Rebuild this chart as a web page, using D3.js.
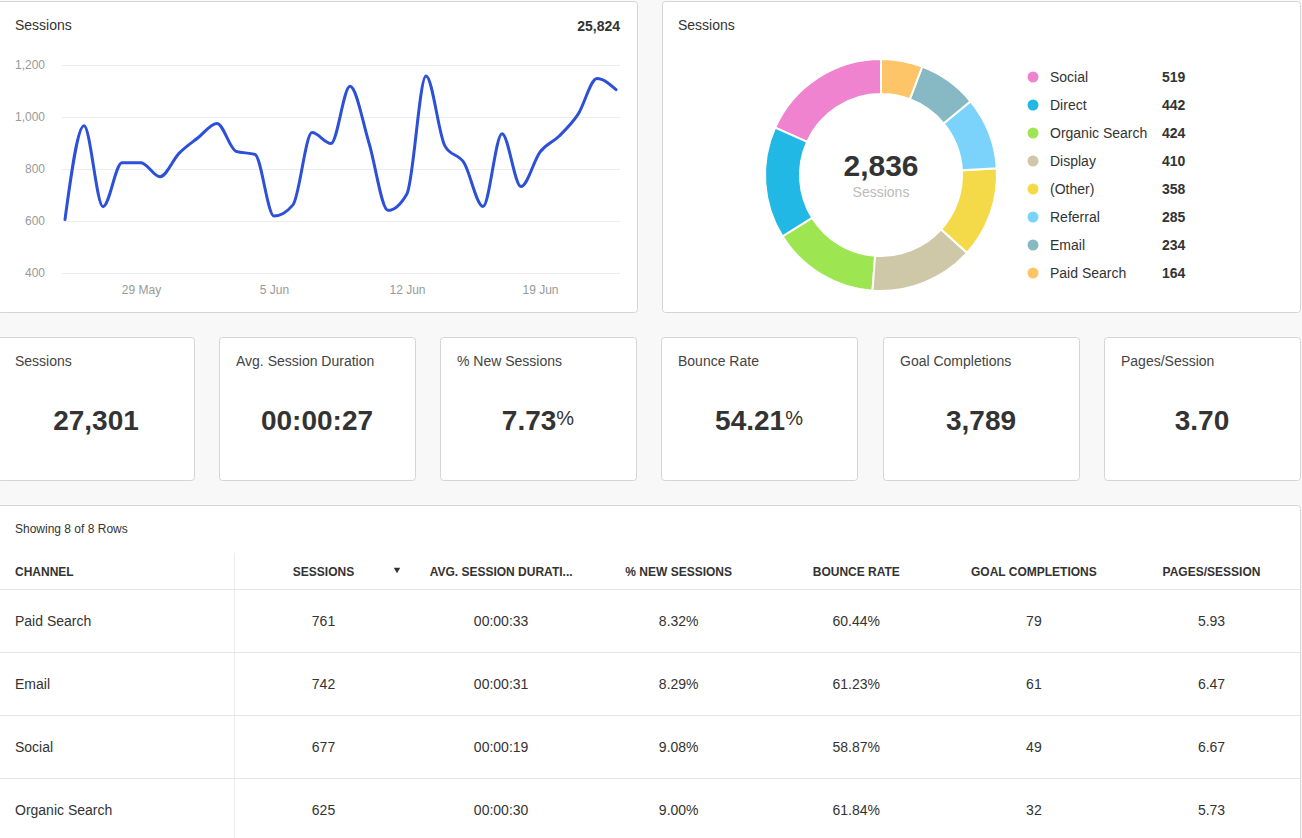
<!DOCTYPE html>
<html>
<head>
    <meta charset="utf-8">
    <script src="https://d3js.org/d3.v7.min.js"></script>
    <style>
        body { margin: 0; background: #f8f8f8; overflow: hidden; }
        svg { display: block; font-family: "Liberation Sans", Arial, sans-serif; }
    </style>
</head>
<body>
<script>
// daily sessions, 25 May .. 23 Jun
const days = ['2019-05-25','2019-05-26','2019-05-27','2019-05-28','2019-05-29','2019-05-30',
    '2019-05-31','2019-06-01','2019-06-02','2019-06-03','2019-06-04','2019-06-05','2019-06-06',
    '2019-06-07','2019-06-08','2019-06-09','2019-06-10','2019-06-11','2019-06-12','2019-06-13',
    '2019-06-14','2019-06-15','2019-06-16','2019-06-17','2019-06-18','2019-06-19','2019-06-20',
    '2019-06-21','2019-06-22','2019-06-23'];
const sessions = [606, 966, 655, 824, 824, 770, 860, 920, 975, 868, 856, 619, 662, 940, 898,
    1118, 900, 641, 705, 1158, 888, 824, 656, 936, 733, 865, 926, 1010, 1148, 1105];
const dateTicks = ['2019-05-29', '2019-06-05', '2019-06-12', '2019-06-19'];
const sessionTicks = [400, 600, 800, 1000, 1200];
const sessionsTotal = '25,824';

const channels = ['Social', 'Direct', 'Organic Search', 'Display', '(Other)', 'Referral', 'Email', 'Paid Search'];
const channelSessions = [519, 442, 424, 410, 358, 285, 234, 164];
const channelColors = ['#ef83cf', '#21b8e5', '#9de651', '#cec8a8', '#f4da49', '#7bd3fb', '#87b9c4', '#fdc468'];

const kpiLabels = ['Sessions', 'Avg. Session Duration', '% New Sessions', 'Bounce Rate', 'Goal Completions', 'Pages/Session'];
const kpiValues = ['27,301', '00:00:27', '7.73', '54.21', '3,789', '3.70'];
const kpiUnits = ['', '', '%', '%', '', ''];

const tableHeaders = ['CHANNEL', 'SESSIONS', 'AVG. SESSION DURATI...', '% NEW SESSIONS', 'BOUNCE RATE', 'GOAL COMPLETIONS', 'PAGES/SESSION'];
const tableChannels = ['Paid Search', 'Email', 'Social', 'Organic Search'];
const tableSessions = ['761', '742', '677', '625'];
const tableDuration = ['00:00:33', '00:00:31', '00:00:19', '00:00:30'];
const tableNewSessions = ['8.32%', '8.29%', '9.08%', '9.00%'];
const tableBounce = ['60.44%', '61.23%', '58.87%', '61.84%'];
const tableGoals = ['79', '61', '49', '32'];
const tablePages = ['5.93', '6.47', '6.67', '5.73'];

const width = 1302, height = 838;
const parse = d3.timeParse('%Y-%m-%d');

const svg = d3.select('body').append('svg')
    .attr('width', width)
    .attr('height', height);

function card(x, y, w, h) {
    svg.append('rect')
        .attr('x', x + 0.5).attr('y', y + 0.5)
        .attr('width', w).attr('height', h)
        .attr('rx', 3)
        .attr('fill', '#fff')
        .attr('stroke', '#d5d5d5');
}

// ---- cards
card(-3, 1, 640, 311);
card(662, 1, 638, 311);
const kpiLeft = [-3, 219, 440, 661, 883, 1104];
kpiLeft.forEach(l => card(l, 337, l < 0 ? 197 : 196, 143));
card(-3, 505, 1303, 400);

// ---- line chart
const data = days.map((d, i) => ({date: parse(d), value: sessions[i]}));

const x = d3.scaleTime()
    .domain(d3.extent(data, d => d.date))
    .range([65, 616]);

const y = d3.scaleLinear()
    .domain([400, 1200])
    .range([273, 65]);

svg.append('text')
    .attr('x', 15).attr('y', 30)
    .attr('font-size', 14).attr('fill', '#333')
    .text('Sessions');

svg.append('text')
    .attr('x', 620).attr('y', 31)
    .attr('text-anchor', 'end')
    .attr('font-size', 14).attr('font-weight', 'bold').attr('fill', '#333')
    .text(sessionsTotal);

const yAxis = svg.append('g')
    .attr('transform', 'translate(45,0)')
    .call(d3.axisLeft(y).tickValues(sessionTicks).tickFormat(d3.format(',')).tickSize(0).tickPadding(0));
yAxis.select('.domain').remove();
yAxis.selectAll('text').attr('font-size', 12).attr('fill', '#999').attr('font-family', null);

svg.append('g')
    .selectAll('line')
    .data(sessionTicks)
    .join('line')
    .attr('x1', 62).attr('x2', 620)
    .attr('y1', d => y(d) + 0.5).attr('y2', d => y(d) + 0.5)
    .attr('stroke', '#ececec');

const xAxis = svg.append('g')
    .attr('transform', 'translate(0,285)')
    .call(d3.axisBottom(x).tickValues(dateTicks.map(parse)).tickFormat(d3.timeFormat('%-d %b')).tickSize(0).tickPadding(0));
xAxis.select('.domain').remove();
xAxis.selectAll('text').attr('font-size', 12).attr('fill', '#999').attr('font-family', null);

const line = d3.line()
    .x(d => x(d.date))
    .y(d => y(d.value))
    .curve(d3.curveMonotoneX);

svg.append('path')
    .datum(data)
    .attr('fill', 'none')
    .attr('stroke', '#2c50d8')
    .attr('stroke-width', 3)
    .attr('stroke-linecap', 'round')
    .attr('d', line);

// ---- donut
svg.append('text')
    .attr('x', 678).attr('y', 30)
    .attr('font-size', 14).attr('fill', '#333')
    .text('Sessions');

const slices = channels.map((c, i) => ({name: c, value: channelSessions[i], color: channelColors[i]}));
const pie = d3.pie().value(d => d.value).sort(null)
    .startAngle(2 * Math.PI).endAngle(0);
const arc = d3.arc().innerRadius(81).outerRadius(116);

const donut = svg.append('g').attr('transform', 'translate(881,175)');
donut.selectAll('path')
    .data(pie(slices))
    .join('path')
    .attr('d', arc)
    .attr('fill', d => d.data.color)
    .attr('stroke', '#fff')
    .attr('stroke-width', 2);

donut.append('text')
    .attr('y', 1)
    .attr('text-anchor', 'middle')
    .attr('font-size', 30).attr('font-weight', 'bold').attr('fill', '#333')
    .text(d3.format(',')(d3.sum(channelSessions)));

donut.append('text')
    .attr('y', 22)
    .attr('text-anchor', 'middle')
    .attr('font-size', 14).attr('fill', '#bbb')
    .text('Sessions');

const legend = svg.append('g')
    .selectAll('g')
    .data(slices)
    .join('g')
    .attr('transform', (d, i) => `translate(1033,${77 + i * 28})`);
legend.append('circle').attr('r', 5.5).attr('fill', d => d.color);
legend.append('text')
    .attr('x', 17).attr('y', 5)
    .attr('font-size', 14).attr('fill', '#333')
    .text(d => d.name);
legend.append('text')
    .attr('x', 129).attr('y', 5)
    .attr('font-size', 14).attr('font-weight', 'bold').attr('fill', '#333')
    .text(d => d.value);

// ---- kpi cards
kpiLabels.forEach((label, i) => {
    const left = kpiLeft[i] < 0 ? -2 : kpiLeft[i];
    svg.append('text')
        .attr('x', left + 17).attr('y', 366)
        .attr('font-size', 14).attr('fill', '#444')
        .text(label);
    const val = svg.append('text')
        .attr('x', left + 98).attr('y', 430)
        .attr('text-anchor', 'middle')
        .attr('font-size', 28).attr('font-weight', 'bold').attr('fill', '#333');
    val.append('tspan').text(kpiValues[i]);
    if (kpiUnits[i]) {
        val.append('tspan')
            .attr('font-size', 20).attr('font-weight', 'normal')
            .attr('dy', -5)
            .text(kpiUnits[i]);
    }
});

// ---- table
svg.append('text')
    .attr('x', 15).attr('y', 533)
    .attr('font-size', 12).attr('fill', '#333')
    .text('Showing 8 of 8 Rows');

const colCenter = d3.scalePoint()
    .domain(tableHeaders.slice(1))
    .range([323.5, 1211.5]);

const rowY = d3.scaleLinear().domain([0, 1]).range([621, 684]);

svg.append('line')
    .attr('x1', 234.5).attr('x2', 234.5)
    .attr('y1', 553).attr('y2', height)
    .attr('stroke', '#ececec');

svg.selectAll('.rowline')
    .data([0, 1, 2, 3])
    .join('line')
    .attr('x1', 0).attr('x2', 1300)
    .attr('y1', d => rowY(d) - 31.5).attr('y2', d => rowY(d) - 31.5)
    .attr('stroke', '#e6e6e6');

svg.append('text')
    .attr('x', 15).attr('y', 576)
    .attr('font-size', 12).attr('font-weight', 'bold').attr('fill', '#333')
    .text(tableHeaders[0]);

svg.selectAll('.head')
    .data(tableHeaders.slice(1))
    .join('text')
    .attr('x', d => colCenter(d)).attr('y', 576)
    .attr('text-anchor', 'middle')
    .attr('font-size', 12).attr('font-weight', 'bold').attr('fill', '#333')
    .text(d => d);

svg.append('path')
    .attr('d', d3.symbol(d3.symbolTriangle, 18))
    .attr('fill', '#333')
    .attr('transform', 'translate(397,569.5) rotate(180)');

const columns = [tableSessions, tableDuration, tableNewSessions, tableBounce, tableGoals, tablePages];

tableChannels.forEach((c, r) => {
    svg.append('text')
        .attr('x', 15).attr('y', rowY(r) + 5)
        .attr('font-size', 14).attr('fill', '#333')
        .text(c);
    columns.forEach((col, j) => {
        svg.append('text')
            .attr('x', colCenter(tableHeaders[j + 1])).attr('y', rowY(r) + 5)
            .attr('text-anchor', 'middle')
            .attr('font-size', 14).attr('fill', '#333')
            .text(col[r]);
    });
});
</script>
</body>
</html>
